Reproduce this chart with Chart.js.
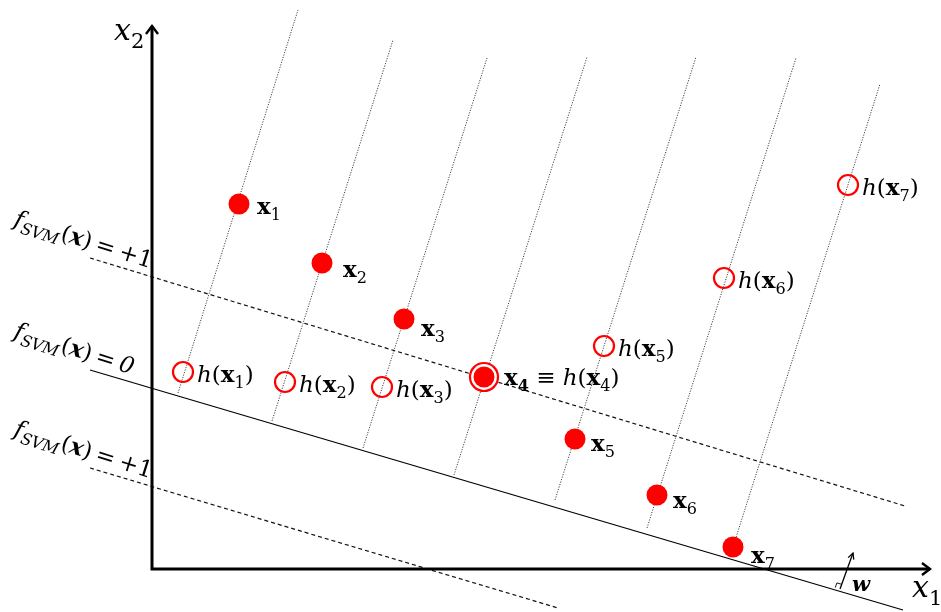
<!DOCTYPE html>
<html>
<head>
<meta charset="utf-8">
<script src="https://cdn.jsdelivr.net/npm/chart.js@4.4.1/dist/chart.umd.min.js"></script>
<style>
  html, body { margin: 0; padding: 0; background: #fff; }
  #c { display: block; }
</style>
</head>
<body>
<canvas id="c" width="941" height="612"></canvas>
<script>
// Samples x_i in the (x1, x2) plane
const sampleIds = ['1', '2', '3', '4', '5', '6', '7'];
const sampleX1 = [0.87, 1.70, 2.52, 3.32, 4.23, 5.05, 5.81];
const sampleX2 = [3.65, 3.06, 2.50, 1.92, 1.30, 0.74, 0.22];
// Their images h(x_i); sample 4 maps onto itself
const imageX1 = [0.31, 1.33, 2.30, 3.32, 4.52, 5.72, 6.96];
const imageX2 = [1.97, 1.87, 1.82, 1.92, 2.23, 2.91, 3.84];
// Dotted guides through each sample: foot and top end
const guideFootX1 = [0.26, 1.20, 2.11, 3.02, 4.03, 4.95, 5.81];
const guideFootX2 = [1.76, 1.48, 1.21, 0.94, 0.69, 0.41, 0.22];
const guideTopX1 = [1.46, 2.41, 3.35, 4.35, 5.44, 6.44, 7.28];
const guideTopX2 = [5.59, 5.29, 5.11, 5.12, 5.12, 5.11, 4.85];
// Level sets of f_SVM: [x1 start, x2 start, x1 end, x2 end]
const levelUpper = [-0.62, 3.11, 7.53, 0.63];
const levelZero = [-0.62, 1.99, 7.51, -0.41];
const levelLower = [-0.62, 1.01, 4.06, -0.39];
const levelValues = ['+1', '0', '+1'];
// Coordinate axes and the normal vector w (base, tip)
const axisX1End = 7.78;
const axisX2End = 5.43;
const normalW = [6.88, -0.20, 7.01, 0.16];

const RED = '#ff0000';
const FONT = '"DejaVu Serif"';

const seg = (a) => [{ x: a[0], y: a[1] }, { x: a[2], y: a[3] }];
const lineSet = (data, opts) => Object.assign({
  data, showLine: true, pointRadius: 0, borderColor: '#000', borderWidth: 1.2,
  fill: false, order: 10
}, opts);

const datasets = [];
// axes
datasets.push(lineSet([{ x: 0, y: axisX2End }, { x: 0, y: 0 }, { x: axisX1End, y: 0 }],
  { borderWidth: 3, borderJoinStyle: 'miter', borderCapStyle: 'butt', order: 5 }));
// level sets
datasets.push(lineSet(seg(levelZero), { borderWidth: 1.3 }));
datasets.push(lineSet(seg(levelUpper), { borderDash: [4, 3], borderColor: '#111', borderWidth: 1.2 }));
datasets.push(lineSet(seg(levelLower), { borderDash: [4, 3], borderColor: '#111', borderWidth: 1.2 }));
// guides
for (let i = 0; i < sampleIds.length; i++) {
  datasets.push(lineSet(
    [{ x: guideFootX1[i], y: guideFootX2[i] }, { x: guideTopX1[i], y: guideTopX2[i] }],
    { borderDash: [1.2, 1.4], borderColor: '#444', borderWidth: 1, order: 12 }));
}
// normal vector shaft
datasets.push(lineSet(seg(normalW), { borderWidth: 1.3 }));
// images h(x_i) (hollow), excluding the one that coincides with its sample
datasets.push({
  data: imageX1.map((v, i) => ({ x: v, y: imageX2[i] })).filter((p, i) => i !== 3),
  pointRadius: 10, pointBorderWidth: 2.2, pointBorderColor: RED,
  pointBackgroundColor: 'rgba(0,0,0,0)', showLine: false, order: 1
});
// coinciding image drawn as a ring round x_4
datasets.push({
  data: [{ x: imageX1[3], y: imageX2[3] }],
  pointRadius: 14, pointBorderWidth: 2.2, pointBorderColor: RED,
  pointBackgroundColor: '#fff', showLine: false, order: 2
});
// samples x_i (filled)
datasets.push({
  data: sampleX1.map((v, i) => ({ x: v, y: sampleX2[i] })),
  pointRadius: 10.5, pointBorderWidth: 0, pointBorderColor: RED,
  pointBackgroundColor: RED, showLine: false, order: 0
});

// rich text: runs of {t, i (italic), b (bold), sub, gap (px after run)}
function drawRich(ctx, runs, x, y, size, angle) {
  ctx.save();
  ctx.translate(x, y);
  ctx.rotate(angle || 0);
  ctx.textBaseline = 'alphabetic';
  ctx.textAlign = 'left';
  ctx.fillStyle = '#000';
  let cx = 0;
  for (const r of runs) {
    const s = r.sub ? size * 0.7 : size;
    ctx.font = (r.i ? 'italic ' : '') + (r.b ? 'bold ' : '') + s + 'px ' + FONT;
    ctx.fillText(r.t, cx, r.sub ? size * 0.25 : 0);
    cx += ctx.measureText(r.t).width + (r.gap || 0);
  }
  ctx.restore();
}

function drawChevron(ctx, tip, dir, len, half, width) {
  const nx = -dir.y, ny = dir.x;
  ctx.save();
  ctx.strokeStyle = '#000';
  ctx.lineWidth = width;
  ctx.lineJoin = 'miter';
  ctx.beginPath();
  ctx.moveTo(tip.x - dir.x * len + nx * half, tip.y - dir.y * len + ny * half);
  ctx.lineTo(tip.x, tip.y);
  ctx.lineTo(tip.x - dir.x * len - nx * half, tip.y - dir.y * len - ny * half);
  ctx.stroke();
  ctx.restore();
}

// sample label offsets (px) to the right of each marker
const sampleLabelDX = [18, 21, 17, 20, 16, 16, 18];
const sampleLabelDY = [10, 14, 17, 8, 12, 13, 16];

const decorations = {
  id: 'decorations',
  afterDatasetsDraw(chart) {
    const { ctx, scales: { x: sx, y: sy } } = chart;
    const P = (a, b) => ({ x: sx.getPixelForValue(a), y: sy.getPixelForValue(b) });

    // axis arrowheads
    drawChevron(ctx, P(axisX1End, 0), { x: 1, y: 0 }, 8, 6, 2.4);
    drawChevron(ctx, P(0, axisX2End), { x: 0, y: -1 }, 8, 6, 2.4);

    // normal vector head and right-angle mark
    const b = P(normalW[0], normalW[1]), t = P(normalW[2], normalW[3]);
    const L = Math.hypot(t.x - b.x, t.y - b.y);
    const d = { x: (t.x - b.x) / L, y: (t.y - b.y) / L };
    drawChevron(ctx, t, d, 6, 3, 1.3);
    const z0 = P(levelZero[0], levelZero[1]), z1 = P(levelZero[2], levelZero[3]);
    const zl = Math.hypot(z1.x - z0.x, z1.y - z0.y);
    const u = { x: -(z1.x - z0.x) / zl, y: -(z1.y - z0.y) / zl };
    const s = 5;
    ctx.save();
    ctx.strokeStyle = '#000';
    ctx.lineWidth = 0.9;
    ctx.beginPath();
    ctx.moveTo(b.x + u.x * s, b.y + u.y * s);
    ctx.lineTo(b.x + u.x * s + d.x * s, b.y + u.y * s + d.y * s);
    ctx.lineTo(b.x + d.x * s, b.y + d.y * s);
    ctx.stroke();
    ctx.restore();

    // axis titles
    const ax1 = P(axisX1End, 0), ax2 = P(0, axisX2End);
    drawRich(ctx, [{ t: 'x', i: true }, { t: '1', sub: true }], ax1.x - 18, ax1.y + 28, 30);
    drawRich(ctx, [{ t: 'x', i: true }, { t: '2', sub: true }], ax2.x - 38, ax2.y + 14, 30);

    // normal vector name
    drawRich(ctx, [{ t: 'w', i: true, b: true }], b.x + 12, b.y + 2, 21);

    // level-set names, rotated along the lines
    [levelUpper, levelZero, levelLower].forEach((lv, k) => {
      const p = P(lv[0], lv[1]);
      drawRich(ctx, [
        { t: 'f', i: true }, { t: 'SVM', i: true, sub: true, gap: 1 },
        { t: '(' }, { t: 'x', i: true, b: true }, { t: ')', gap: 5 },
        { t: '=', gap: 5 },
        { t: levelValues[k], i: levelValues[k] === '0' }
      ], p.x - 77, p.y - 33, 23, 17.5 * Math.PI / 180);
    });

    // sample labels
    sampleIds.forEach((id, i) => {
      const p = P(sampleX1[i], sampleX2[i]);
      const runs = [{ t: 'x', b: true }, { t: id, sub: true, b: i === 3 }];
      if (i === 3) {
        runs.push({ t: ' \u2261 ' }, { t: 'h', i: true }, { t: '(' },
          { t: 'x', b: true }, { t: id, sub: true }, { t: ')' });
      }
      drawRich(ctx, runs, p.x + sampleLabelDX[i], p.y + sampleLabelDY[i], 23);
    });

    // image labels h(x_i)
    sampleIds.forEach((id, i) => {
      if (i === 3) return;
      const p = P(imageX1[i], imageX2[i]);
      drawRich(ctx, [{ t: 'h', i: true }, { t: '(' }, { t: 'x', b: true },
        { t: id, sub: true }, { t: ')' }], p.x + 14, p.y + 10, 23);
    });
  }
};

new Chart(document.getElementById('c'), {
  type: 'scatter',
  data: { datasets },
  options: {
    responsive: false,
    animation: false,
    layout: { padding: 0, autoPadding: false },
    scales: {
      x: { type: 'linear', min: -1.52, max: 7.89, display: false },
      y: { type: 'linear', min: -0.43, max: 5.69, display: false }
    },
    plugins: { legend: { display: false }, tooltip: { enabled: false } },
    events: []
  },
  plugins: [decorations]
});
</script>
</body>
</html>
